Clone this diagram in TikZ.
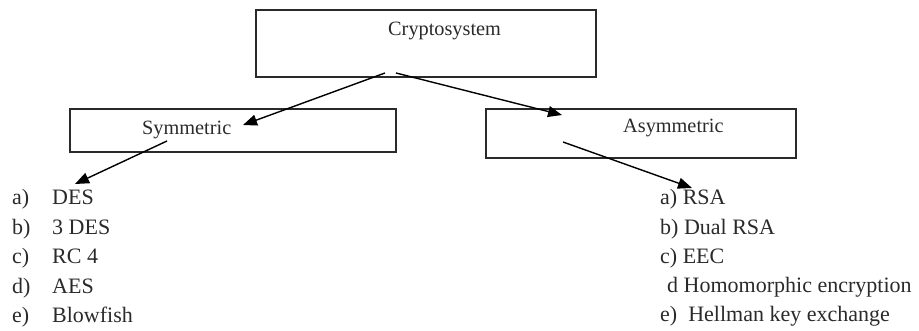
\documentclass[tikz,border=0pt]{standalone}
\usepackage{fontspec}
\setmainfont{Liberation Serif}
\usetikzlibrary{arrows.meta}
\definecolor{ink}{HTML}{2A2A2A}
\tikzset{
  box/.style={draw=ink, line width=1.6pt, rectangle, inner sep=0pt, anchor=north west},
  boxtext/.style={anchor=base west, inner sep=0pt, text=ink, font=\fontsize{20.3}{24}\selectfont},
  item/.style={anchor=base west, inner sep=0pt, text=ink, font=\fontsize{22}{26}\selectfont},
  conn/.style={draw=black, line width=1.4pt, -{Triangle[length=14pt,width=11pt]}}
}
\begin{document}
\begin{tikzpicture}[x=1pt,y=-1pt]
\useasboundingbox (0,0) rectangle (919,331);
% boxes
\node[box, minimum width=340pt, minimum height=67pt] (crypto) at (255,9) {};
\node[box, minimum width=326pt, minimum height=43pt] (sym) at (69,108) {};
\node[box, minimum width=310pt, minimum height=49pt] (asym) at (485,108) {};
\node[boxtext] (cryptot) at (388,36) {Cryptosystem};
\node[boxtext] (symt) at (142,135) {Symmetric};
\node[boxtext] (asymt) at (623,133) {Asymmetric};
% left list
\node[item] (la) at (12,205) {a)};
\node[item] (lb) at (12,234.5) {b)};
\node[item] (lc) at (12,264) {c)};
\node[item] (ld) at (12,293.5) {d)};
\node[item] (le) at (12,323) {e)};
\node[item] (las) at (52,205) {DES};
\node[item] (lbs) at (52,234.5) {3 DES};
\node[item] (lcs) at (52,264) {RC 4};
\node[item] (lds) at (52,293.5) {AES};
\node[item] (les) at (52,323) {Blowfish};
% right list
\node[item] (ra) at (660,205) {a) RSA};
\node[item] (rb) at (660,234.5) {b) Dual RSA};
\node[item] (rc) at (660,264) {c) EEC};
\node[item] (rd) at (667,293) {d Homomorphic encryption};
\node[item] (re) at (660,321) {e)\ \ Hellman key exchange};
% connector ends
\coordinate (s1) at (385,73);
\coordinate (s2) at (396,73);
\coordinate (t1) at (243,125);
\coordinate (t2) at (562,115);
\coordinate (s3) at (167,141);
\coordinate (t3) at (75,184);
\coordinate (s4) at (563,142);
\coordinate (t4) at (692,188);
\draw[conn] (s1) -- (t1);
\draw[conn] (s2) -- (t2);
\draw[conn] (s3) -- (t3);
\draw[conn] (s4) -- (t4);
\end{tikzpicture}
\end{document}
